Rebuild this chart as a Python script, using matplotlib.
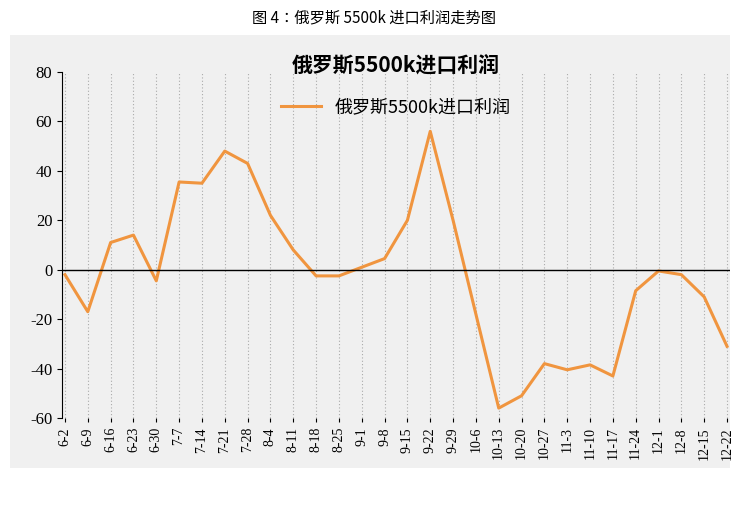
import matplotlib
matplotlib.use("Agg")
import matplotlib.pyplot as plt
from matplotlib.patches import Rectangle
from matplotlib import font_manager as fm

cjk = [f.name for f in fm.fontManager.ttflist if "CJK" in f.name]
cjk_name = "Noto Sans CJK SC" if "Noto Sans CJK SC" in cjk else (cjk[0] if cjk else "DejaVu Sans")
plt.rcParams['font.family'] = [cjk_name, 'DejaVu Sans']

categories = ["6-2","6-9","6-16","6-23","6-30","7-7","7-14","7-21","7-28","8-4","8-11","8-18","8-25","9-1","9-8","9-15","9-22","9-29","10-6","10-13","10-20","10-27","11-3","11-10","11-17","11-24","12-1","12-8","12-15","12-22"]
profit = [-2,-17,11,14,-4.5,35.5,35,48,43,22,8,-2.5,-2.5,1,4.5,20,56,20,-18,-56,-51,-38,-40.5,-38.5,-43,-8.5,-0.5,-2,-11,-31]
series_name = "俄罗斯5500k进口利润"
yticks = [-60,-40,-20,0,20,40,60,80]

W, H = 747, 513
fig = plt.figure(figsize=(W/100, H/100), dpi=100)
fig.patches.append(Rectangle((10/W, 1-468/H), 720/W, 433/H, transform=fig.transFigure,
                             facecolor="#f0f0f0", edgecolor="none", zorder=-10))
fig.text(0.5, 1-18/H, "图 4：俄罗斯 5500k 进口利润走势图", ha="center", va="center", fontsize=11)

ax = fig.add_axes([62/W, 1-418/H, 668/W, 346/H])
ax.set_zorder(5)
ax.set_facecolor("none")
x = list(range(len(categories)))
ax.plot(x, profit, color="#f0953f", lw=2.2, label=series_name)
ax.set_xlim(-0.13, 29.13)
ax.set_ylim(-60, 80)
ax.set_yticks(yticks)
ax.set_yticklabels([str(v) for v in yticks], fontfamily="Liberation Serif", fontsize=12)
ax.set_xticks(x)
ax.set_xticklabels(categories, rotation=90, fontfamily="Liberation Serif", fontsize=10)
for xi in x:
    ax.axvline(xi, color="#aaaaaa", lw=0.8, ls=(0, (1, 2)), zorder=0)
ax.axhline(0, color="black", lw=1)
for s in ["top", "right", "bottom"]:
    ax.spines[s].set_visible(False)
ax.tick_params(axis="x", length=3)
ax.set_title(series_name, fontsize=15, fontweight="bold", y=1.0, pad=0)
ax.legend(loc="upper center", bbox_to_anchor=(0.5, 0.97), frameon=False, fontsize=13, handlelength=2.2)
fig.savefig("out.png", dpi=100)
